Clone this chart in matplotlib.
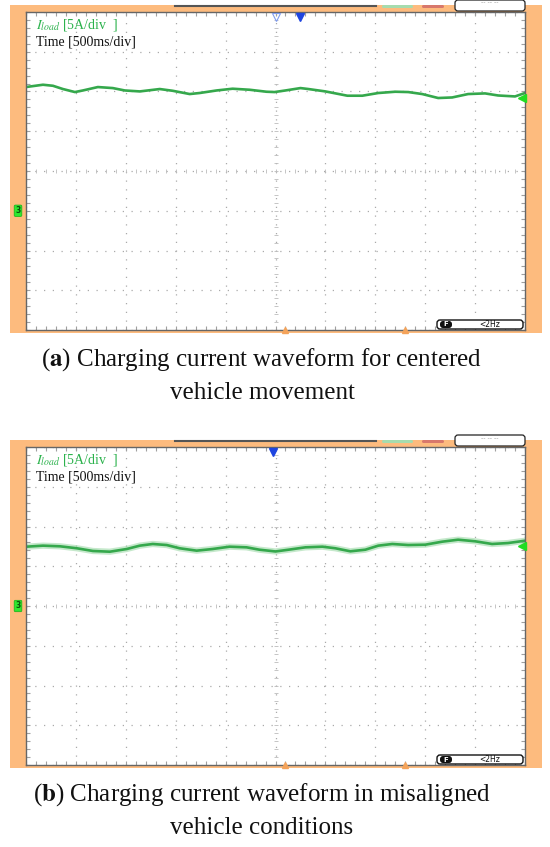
import numpy as np
import matplotlib.pyplot as plt
from matplotlib.patches import Rectangle, FancyBboxPatch
from matplotlib.transforms import Affine2D

plt.rcParams['font.family'] = ['Liberation Serif', 'DejaVu Serif']
plt.rcParams['mathtext.fontset'] = 'stix'

# scope traces: time [s], load current [A]
t_a = [0, 0.17, 0.27, 0.37, 0.49, 0.57, 0.72, 0.87, 0.99, 1.14, 1.34, 1.47, 1.64, 1.74,
       1.91, 2.07, 2.24, 2.41, 2.49, 2.60, 2.75, 2.83, 3.00, 3.22, 3.37, 3.53, 3.70,
       3.83, 3.97, 4.13, 4.27, 4.43, 4.60, 4.73, 4.90, 5.0]
i_a = [15.56, 15.85, 15.72, 15.31, 14.93, 15.13, 15.56, 15.43, 15.13, 15.01, 15.31,
       15.09, 14.68, 14.81, 15.13, 15.35, 15.22, 14.97, 14.93, 15.13, 15.43, 15.31,
       15.01, 14.47, 14.47, 14.81, 14.97, 14.93, 14.68, 14.18, 14.25, 14.68, 14.76,
       14.50, 14.38, 14.81]
t_b = [0, 0.17, 0.34, 0.51, 0.67, 0.84, 1.01, 1.14, 1.27, 1.41, 1.54, 1.71, 1.87, 2.04,
       2.21, 2.34, 2.50, 2.63, 2.80, 2.97, 3.10, 3.25, 3.40, 3.53, 3.67, 3.83, 4.00,
       4.17, 4.33, 4.50, 4.67, 4.83, 5.0]
i_b = [7.46, 7.59, 7.51, 7.26, 6.92, 6.83, 7.17, 7.59, 7.80, 7.67, 7.26, 6.96, 7.17,
       7.46, 7.38, 7.08, 6.86, 7.08, 7.38, 7.46, 7.26, 6.88, 7.08, 7.59, 7.80, 7.67,
       7.71, 8.09, 8.34, 8.14, 7.80, 7.92, 8.21]

ylims = [(-15, 25), (-20, 20)]
levels = [14.2, 7.5]          # green level arrow on the right edge
trig_solid = [2.75, 2.47]     # blue trigger markers
trig_hollow = [2.5, None]
bottom_marks = [2.6, 3.8]
captions = [('a', 'Charging current waveform for centered', 'vehicle movement'),
            ('b', 'Charging current waveform in misaligned', 'vehicle conditions')]
ch_label = r'$I_{load}$ [5A/div  ]'
time_label = 'Time [500ms/div]'

W, H = 550, 847
orange = '#FDBB7E'
green = '#35A84C'

fig = plt.figure(figsize=(W / 100, H / 100), dpi=100)
pix = Affine2D().scale(1 / W, -1 / H).translate(0, 1) + fig.transFigure


def ax_box(x0, y0, x1, y1):
    return [x0 / W, 1 - y1 / H, (x1 - x0) / W, (y1 - y0) / H]


tops = [12, 447]
traces = [(t_a, i_a), (t_b, i_b)]

for k in range(2):
    top = tops[k]
    bot = top + 318
    lo, hi = ylims[k]
    t, cur = traces[k]

    # orange scope bezel
    fig.add_artist(Rectangle((10, top - 7), 532, bot - top + 10, transform=pix,
                             fc=orange, ec='none', zorder=-1))

    ax = fig.add_axes(ax_box(26, top, 525, bot))
    ax.set_xlim(0, 5)
    ax.set_ylim(lo, hi)
    ax.set_xticks(np.arange(0, 5.01, 0.5))
    ax.set_yticks(np.arange(lo, hi + 0.1, 5))
    ax.set_xticks(np.arange(0, 5.01, 0.1), minor=True)
    ax.set_yticks(np.arange(lo, hi + 0.1, 1), minor=True)
    ax.tick_params(which='both', direction='in', top=True, right=True, length=3,
                   width=0.8, color='#a0a0a0', labelbottom=False, labelleft=False)
    ax.grid(True, which='major', color='#aaaaaa', lw=0.9, ls=(0, (1, 6)))
    for s in ax.spines.values():
        s.set_color('#666666')
        s.set_linewidth(1)

    # centre crosshair ticks
    yc = (lo + hi) / 2
    xm = np.arange(0, 5.01, 0.1)
    ym = np.arange(lo, hi + 0.1, 1)
    ax.plot(xm, np.full(len(xm), yc), ls='none', marker='|', ms=3.5, mew=0.6, color='#bbbbbb')
    ax.plot(np.full(len(ym), 2.5), ym, ls='none', marker='_', ms=3.5, mew=0.6, color='#bbbbbb')

    if k == 1:
        ax.plot(t, cur, color='#9fdaa9', lw=4.5, alpha=0.6)
    ax.plot(t, cur, color=green, lw=1.9, solid_joinstyle='round')

    # channel / trigger markers
    ax.plot([0.993], [levels[k]], transform=ax.get_yaxis_transform(), marker='<', ms=6,
            color='#22DD22', clip_on=False, zorder=5)
    ax.text(-0.016, 0, '3', transform=ax.get_yaxis_transform(), ha='center', va='center',
            fontsize=5.5, color='#0a500a', family='DejaVu Sans', fontweight='bold',
            bbox=dict(boxstyle='round,pad=0.15', fc='#2ee82e', ec='#1fb51f', lw=0.6))
    ax.plot([trig_solid[k]], [0.985], transform=ax.get_xaxis_transform(), marker='v', ms=6,
            color='#1f45e0', clip_on=False, zorder=5)
    if trig_hollow[k] is not None:
        ax.plot([trig_hollow[k]], [0.985], transform=ax.get_xaxis_transform(), marker='v',
                ms=6, mfc='none', mec='#7f9cf2', mew=0.8, clip_on=False, zorder=5)
    ax.plot(bottom_marks, [0.0, 0.0], transform=ax.get_xaxis_transform(), ls='none',
            marker='^', ms=4, color='#f4a35a', clip_on=False, zorder=5)

    # top status bar
    fig.add_artist(plt.Line2D([175, 376], [top - 6, top - 6], transform=pix, color='#555555', lw=1.5))
    fig.add_artist(FancyBboxPatch((382, top - 7), 31, 3, boxstyle='round,pad=0,rounding_size=1.5',
                                  transform=pix, fc='#a6dcae', ec='none'))
    fig.add_artist(FancyBboxPatch((422, top - 7), 22, 3, boxstyle='round,pad=0,rounding_size=1.5',
                                  transform=pix, fc='#d8786c', ec='none'))
    fig.add_artist(FancyBboxPatch((455, top - 12), 70, 11, boxstyle='round,pad=0,rounding_size=3',
                                  transform=pix, fc='white', ec='#222222', lw=0.9))
    fig.text(490, top - 9, '-- -- --', transform=pix, ha='center', va='center', fontsize=4.5,
             color='#888888', family='DejaVu Sans')

    # frequency readout box
    fig.add_artist(FancyBboxPatch((437, bot - 10), 86, 9, boxstyle='round,pad=0,rounding_size=3',
                                  transform=pix, fc='white', ec='#111111', lw=1, zorder=6))
    fig.add_artist(FancyBboxPatch((440, bot - 9), 12, 7, boxstyle='round,pad=0,rounding_size=3',
                                  transform=pix, fc='#111111', ec='none', zorder=7))
    fig.text(446, bot - 5.5, 'F', transform=pix, ha='center', va='center', fontsize=5,
             color='white', family='DejaVu Sans', fontweight='bold', zorder=8)
    fig.text(490, bot - 5.5, '<2Hz', transform=pix, ha='center', va='center', fontsize=5.5,
             color='#111111', family='DejaVu Sans', zorder=8)

    fig.text(36, top + 13, ch_label, transform=pix, va='center', fontsize=10, color='#2BB24C')
    fig.text(36, top + 30, time_label, transform=pix, va='center', fontsize=10, color='#111111')

    letter, line1, line2 = captions[k]
    fig.text(262, bot + 30, r'($\mathbf{' + letter + r'}$) ' + line1, transform=pix,
             ha='center', va='center', fontsize=18, color='#111111')
    fig.text(262, bot + 63, line2, transform=pix, ha='center', va='center', fontsize=18,
             color='#111111')

fig.savefig('out.png', dpi=100)
